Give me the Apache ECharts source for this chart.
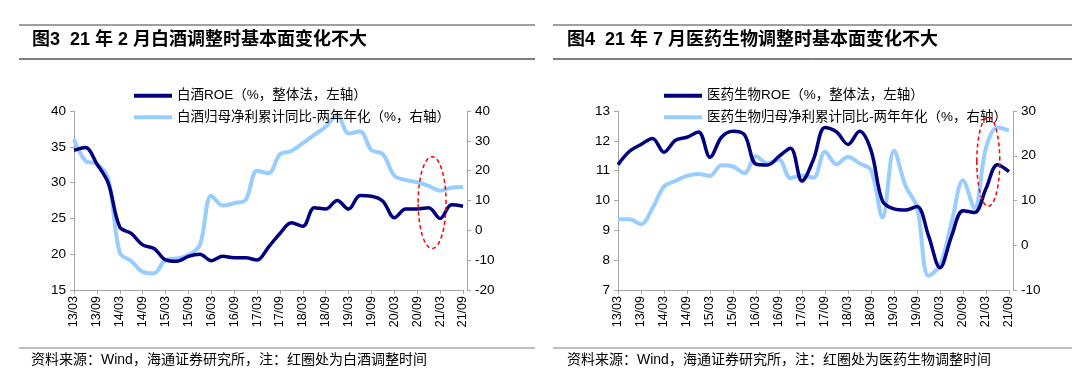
<!DOCTYPE html>
<html>
<head>
<meta charset="utf-8">
<script src="https://cdn.jsdelivr.net/npm/echarts@6/dist/echarts.min.js"></script>
<style>
html,body{margin:0;padding:0;background:#fff;}
#c{width:1080px;height:374px;}
</style>
</head>
<body>
<div id="c"></div>
<script>
// quarterly categories 2013Q1 .. 2021Q3
var categories = ['13/03','13/06','13/09','13/12','14/03','14/06','14/09','14/12','15/03','15/06','15/09','15/12',
  '16/03','16/06','16/09','16/12','17/03','17/06','17/09','17/12','18/03','18/06','18/09','18/12',
  '19/03','19/06','19/09','19/12','20/03','20/06','20/09','20/12','21/03','21/06','21/09'];

// Figure 3: liquor (白酒)
var liquorROE = [34.5, 34.9, 32.6, 29.9, 23.8, 22.9, 21.3, 20.8, 19.2, 19.0, 19.7, 20.0, 19.1, 19.7, 19.5, 19.5, 19.2,
  21.0, 22.9, 24.4, 23.9, 26.5, 26.3, 27.5, 26.3, 28.2, 28.1, 27.4, 25.1, 26.3, 26.3, 26.5, 25.0, 26.9, 26.7];
var liquorProfit = [30.5, 23.3, 22.3, 17.2, -7.5, -10.3, -13.9, -14.4, -9.9, -9.4, -8.3, -4.9, 11.6, 8.3, 9.1, 10.2, 20.0,
  19.1, 25.5, 26.6, 29.2, 32.0, 34.7, 38.7, 32.5, 33.1, 26.9, 25.5, 18.3, 16.9, 16.1, 14.9, 13.3, 14.3, 14.5];

// Figure 4: pharma (医药生物)
var pharmaROE = [11.2, 11.65, 11.88, 12.08, 11.62, 12.02, 12.12, 12.3, 11.45, 12.12, 12.32, 12.2, 11.22, 11.19, 11.48, 11.75, 10.65,
  11.38, 12.45, 12.3, 11.88, 12.32, 11.68, 9.98, 9.72, 9.68, 9.8, 8.82, 7.75, 8.8, 9.66, 9.6, 10.4, 11.2, 10.97];
var pharmaProfit = [5.8, 5.8, 4.7, 8.3, 13.1, 14.4, 15.5, 15.9, 15.5, 17.9, 17.6, 16.1, 19.9, 18.3, 19.1, 15.0, 15.6,
  15.1, 20.9, 18.1, 19.8, 18.3, 16.8, 6.2, 21.1, 13.3, 8.5, -6.8, -4.5, 5.0, 14.5, 8.3, 21.8, 26.3, 25.6];

var leftTicks1 = {min: 15, max: 40, interval: 5};
var rightTicks1 = {min: -20, max: 40, interval: 10};
var leftTicks2 = {min: 7, max: 13, interval: 1};
var rightTicks2 = {min: -10, max: 30, interval: 10};

var titles = ['图3  21 年 2 月白酒调整时基本面变化不大', '图4  21 年 7 月医药生物调整时基本面变化不大'];
var legendNames1 = ['白酒ROE（%，整体法，左轴）', '白酒归母净利累计同比-两年年化（%，右轴）'];
var legendNames2 = ['医药生物ROE（%，整体法，左轴）', '医药生物归母净利累计同比-两年年化（%，右轴）'];
var sources = ['资料来源：Wind，海通证券研究所，注：红圈处为白酒调整时间', '资料来源：Wind，海通证券研究所，注：红圈处为医药生物调整时间'];

// red dashed circles (annotation): centre in [category index, right-axis value], half sizes in quarters / value units
var circle1 = {x: 31.3, y: 9.3, rx: 1.22, ry: 15.4};
var circle2 = {x: 32.2, y: 18.7, rx: 1.0, ry: 10.0};

var DARK = '#000080', LIGHT = '#99CCFF', AXIS = '#A6A6A6';
var FONT = '"Liberation Sans", Arial, "Noto Sans CJK SC", sans-serif';

function xAxis(grid) {
  return {
    type: 'category', gridIndex: grid, data: categories, boundaryGap: false,
    axisLine: {onZero: false, lineStyle: {color: AXIS, width: 1}},
    axisTick: {interval: 1, length: 4, lineStyle: {color: AXIS}},
    axisLabel: {interval: 1, rotate: 90, fontSize: 12.5, color: '#000', margin: 6, fontFamily: FONT},
    splitLine: {show: false}
  };
}
function yAxis(grid, pos, t) {
  return {
    type: 'value', gridIndex: grid, position: pos, min: t.min, max: t.max, interval: t.interval,
    offset: pos === 'right' ? 4 : 0,
    axisLine: {show: true, onZero: false, lineStyle: {color: AXIS, width: 1}},
    axisTick: {show: true, length: 4, lineStyle: {color: AXIS}},
    axisLabel: {fontSize: 13.5, color: '#000', margin: 8, fontFamily: FONT},
    splitLine: {show: false}
  };
}
function line(name, data, xi, yi, color, w) {
  return {
    name: name, type: 'line', xAxisIndex: xi, yAxisIndex: yi, data: data, smooth: 0.35,
    showSymbol: false, symbol: 'none', lineStyle: {color: color, width: w}, itemStyle: {color: color},
    z: color === DARK ? 3 : 2, animation: false
  };
}

var legendText = {fontSize: 13.5, color: '#000', fontFamily: FONT};

var option = {
  animation: false,
  textStyle: {fontFamily: FONT},
  grid: [
    {left: 74, top: 111, width: 389, height: 179},
    {left: 618, top: 111, width: 391, height: 179}
  ],
  xAxis: [xAxis(0), xAxis(1)],
  yAxis: [yAxis(0, 'left', leftTicks1), yAxis(0, 'right', rightTicks1), yAxis(1, 'left', leftTicks2), yAxis(1, 'right', rightTicks2)],
  legend: [
    {orient: 'vertical', left: 129, top: 84, itemWidth: 38, itemHeight: 4, itemGap: 8, icon: 'rect',
      data: legendNames1, textStyle: legendText},
    {orient: 'vertical', left: 659, top: 84, itemWidth: 38, itemHeight: 4, itemGap: 8, icon: 'rect',
      data: legendNames2, textStyle: legendText}
  ],
  series: [
    line(legendNames1[1], liquorProfit, 0, 1, LIGHT, 4),
    line(legendNames1[0], liquorROE, 0, 0, DARK, 3.5),
    line(legendNames2[1], pharmaProfit, 1, 3, LIGHT, 4),
    line(legendNames2[0], pharmaROE, 1, 2, DARK, 3.5)
  ],
  graphic: [
    {type: 'line', shape: {x1: 19, y1: 25, x2: 535, y2: 25}, style: {stroke: '#7F7F7F', lineWidth: 1.5}},
    {type: 'line', shape: {x1: 19, y1: 59, x2: 535, y2: 59}, style: {stroke: '#000', lineWidth: 1}},
    {type: 'line', shape: {x1: 19, y1: 348, x2: 535, y2: 348}, style: {stroke: '#7F7F7F', lineWidth: 1}},
    {type: 'line', shape: {x1: 553, y1: 25, x2: 1072, y2: 25}, style: {stroke: '#7F7F7F', lineWidth: 1.5}},
    {type: 'line', shape: {x1: 553, y1: 59, x2: 1072, y2: 59}, style: {stroke: '#000', lineWidth: 1}},
    {type: 'line', shape: {x1: 553, y1: 348, x2: 1072, y2: 348}, style: {stroke: '#7F7F7F', lineWidth: 1}},
    {type: 'text', left: 32, top: 31, style: {text: titles[0], font: 'bold 18px ' + FONT, fill: '#000'}},
    {type: 'text', left: 567, top: 31, style: {text: titles[1], font: 'bold 18px ' + FONT, fill: '#000'}},
    {type: 'text', left: 31, top: 353, style: {text: sources[0], font: '14px ' + FONT, fill: '#000'}},
    {type: 'text', left: 567, top: 353, style: {text: sources[1], font: '14px ' + FONT, fill: '#000'}}
  ]
};

var chart = echarts.init(document.getElementById('c'), null, {renderer: 'canvas'});
chart.setOption(option);

function ellipseFor(c, xi, yi) {
  var p0 = chart.convertToPixel({xAxisIndex: xi, yAxisIndex: yi}, [Math.floor(c.x), c.y]);
  var p1 = chart.convertToPixel({xAxisIndex: xi, yAxisIndex: yi}, [Math.floor(c.x) + 1, c.y + c.ry]);
  var step = p1[0] - p0[0];
  var cx = p0[0] + (c.x - Math.floor(c.x)) * step;
  return {
    type: 'ellipse', z: 10,
    shape: {cx: cx, cy: p0[1], rx: c.rx * step, ry: p0[1] - p1[1]},
    style: {fill: 'none', stroke: '#FF0000', lineWidth: 1.5, lineDash: [4, 3]}
  };
}
chart.setOption({graphic: option.graphic.concat([ellipseFor(circle1, 0, 1), ellipseFor(circle2, 1, 3)])});
</script>
</body>
</html>
